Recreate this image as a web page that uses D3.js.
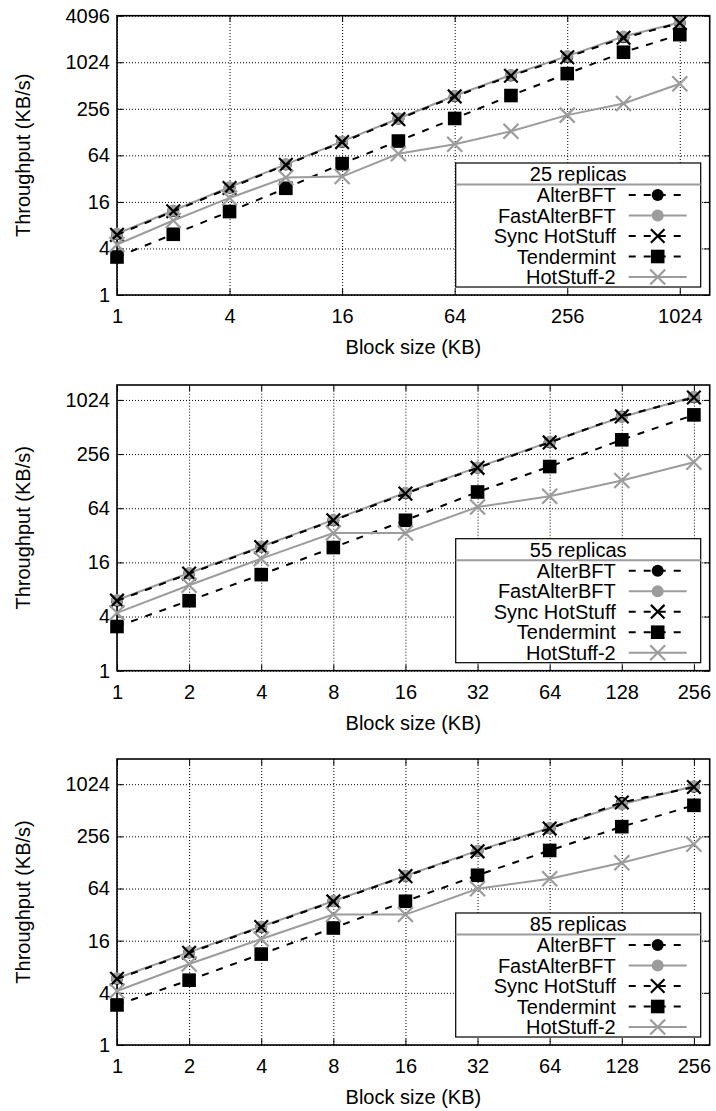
<!DOCTYPE html>
<html lang="en">
<head>
<meta charset="UTF-8">
<title>throughput vs block size</title>
<script src="https://cdn.jsdelivr.net/npm/d3@7/dist/d3.min.js"></script>
<style>
    body { margin: 0; background: #fff; }
    text { font-family: "Liberation Sans", Arial, sans-serif; }
</style>
</head>
<body>

<svg width="716" height="1111" viewBox="0 0 716 1111"></svg>

<script>
    // ---- data ----
    let seriesNames = ["AlterBFT", "FastAlterBFT", "Sync HotStuff", "Tendermint", "HotStuff-2"]
    let panelTitles = ["25 replicas", "55 replicas", "85 replicas"]

    let blockSizesWide = [1, 2, 4, 8, 16, 32, 64, 128, 256, 512, 1024]
    let blockSizes = [1, 2, 4, 8, 16, 32, 64, 128, 256]

    let xTicksWide = [1, 4, 16, 64, 256, 1024]
    let xTicks = [1, 2, 4, 8, 16, 32, 64, 128, 256]
    let yTicksWide = [1, 4, 16, 64, 256, 1024, 4096]
    let yTicks = [1, 4, 16, 64, 256, 1024]

    // 25 replicas
    let alter25 = [6.1, 12.2, 24.4, 48.7, 95, 190, 372, 690, 1200, 2150, 3300]
    let fast25 = [6.2, 12.4, 24.8, 49, 97, 192, 378, 700, 1230, 2200, 3350]
    let sync25 = [6.0, 12.1, 24.2, 48.3, 95, 188, 370, 685, 1190, 2120, 3300]
    let tender25 = [3.1, 6.1, 12, 24, 50, 98, 192, 380, 730, 1380, 2330]
    let hs2_25 = [4.5, 9.2, 18, 33, 34, 67, 89, 131, 212, 300, 540]

    // 55 replicas
    let alter55 = [6.0, 12, 23.8, 47, 94, 180, 347, 670, 1097]
    let fast55 = [6.1, 12.2, 24, 47.5, 95, 182, 350, 660, 1110]
    let sync55 = [6.0, 12, 23.6, 47, 93, 180, 345, 672, 1090]
    let tender55 = [3.1, 6, 11.7, 23.4, 47, 97, 186, 369, 698]
    let hs2_55 = [4.4, 8.9, 17.6, 34, 34, 66, 87, 130, 208]

    // 85 replicas
    let alter85 = [5.8, 11.7, 23, 45.6, 89, 173, 317, 627, 954]
    let fast85 = [5.9, 11.8, 23.3, 46, 90, 175, 320, 600, 970]
    let sync85 = [5.8, 11.6, 23, 45.4, 89, 172, 315, 630, 950]
    let tender85 = [2.9, 5.6, 11.2, 22.4, 45.6, 91, 176, 331, 584]
    let hs2_85 = [4.2, 8.6, 16.7, 32, 32, 63.5, 83, 127, 207]

    // ---- drawing ----
    let svg = d3.select('svg')
    let grey = '#9c9c9c'
    let dashes = '7,8'
    let styles = [
        {color: '#000', dash: dashes, marker: 'circle'},
        {color: grey, dash: null, marker: 'circle'},
        {color: '#000', dash: dashes, marker: 'cross'},
        {color: '#000', dash: dashes, marker: 'square'},
        {color: grey, dash: null, marker: 'cross'}
    ]

    let left = 117, right = 709.7

    let panels = [
        {top: 15.7, bottom: 295, xs: blockSizesWide, xMax: 1480, yMax: 4096, xTicks: xTicksWide, yTicks: yTicksWide,
            series: [alter25, fast25, sync25, tender25, hs2_25], title: panelTitles[0]},
        {top: 385, bottom: 670.7, xs: blockSizes, xMax: 298, yMax: 1500, xTicks: xTicks, yTicks: yTicks,
            series: [alter55, fast55, sync55, tender55, hs2_55], title: panelTitles[1]},
        {top: 759, bottom: 1045, xs: blockSizes, xMax: 298, yMax: 2000, xTicks: xTicks, yTicks: yTicks,
            series: [alter85, fast85, sync85, tender85, hs2_85], title: panelTitles[2]}
    ]

    function drawMarker(g, x, y, st) {
        if (st.marker === 'circle') {
            g.append('circle').attr('cx', x).attr('cy', y).attr('r', 6).attr('fill', st.color)
        } else if (st.marker === 'square') {
            g.append('rect').attr('x', x - 6.8).attr('y', y - 6.8).attr('width', 13.6).attr('height', 13.6).attr('fill', st.color)
        } else {
            let s = st.color === '#000' ? 6.8 : 7.5
            g.append('path')
                .attr('d', 'M' + (x - s) + ',' + (y - s) + 'L' + (x + s) + ',' + (y + s) + 'M' + (x - s) + ',' + (y + s) + 'L' + (x + s) + ',' + (y - s))
                .attr('stroke', st.color).attr('stroke-width', 2.2).attr('fill', 'none')
        }
    }

    function styleAxis(g) {
        g.select('.domain').remove()
        g.attr('font-family', '"Liberation Sans", Arial, sans-serif').attr('font-size', 20)
    }

    panels.forEach(function (p) {
        let xScale = d3.scaleLog().base(2).domain([1, p.xMax]).range([left, right])
        let yScale = d3.scaleLog().base(2).domain([1, p.yMax]).range([p.bottom, p.top])
        let w = right - left, h = p.bottom - p.top
        let fig = svg.append('g')

        // dotted grid
        fig.append('g').attr('transform', 'translate(' + left + ',0)')
            .call(d3.axisLeft(yScale).tickValues(p.yTicks).tickSize(-w).tickFormat(''))
            .call(styleAxis)
            .selectAll('line').attr('stroke', '#000').attr('stroke-width', 0.9).attr('stroke-dasharray', '1,2')
        fig.append('g').attr('transform', 'translate(0,' + p.bottom + ')')
            .call(d3.axisBottom(xScale).tickValues(p.xTicks).tickSize(-h).tickFormat(''))
            .call(styleAxis)
            .selectAll('line').attr('stroke', '#000').attr('stroke-width', 0.9).attr('stroke-dasharray', '1,2')

        // inward ticks on all four sides
        fig.append('g').attr('transform', 'translate(' + left + ',0)')
            .call(d3.axisLeft(yScale).tickValues(p.yTicks).tickSize(-6).tickFormat('')).call(styleAxis)
        fig.append('g').attr('transform', 'translate(' + right + ',0)')
            .call(d3.axisRight(yScale).tickValues(p.yTicks).tickSize(-6).tickFormat('')).call(styleAxis)
        fig.append('g').attr('transform', 'translate(0,' + p.bottom + ')')
            .call(d3.axisBottom(xScale).tickValues(p.xTicks).tickSize(-6).tickFormat('')).call(styleAxis)
        fig.append('g').attr('transform', 'translate(0,' + p.top + ')')
            .call(d3.axisTop(xScale).tickValues(p.xTicks).tickSize(-6).tickFormat('')).call(styleAxis)
        fig.selectAll('.tick line').attr('stroke-width', 1)

        // tick labels
        fig.append('g').attr('transform', 'translate(' + left + ',0)')
            .call(d3.axisLeft(yScale).tickValues(p.yTicks).tickSize(0).tickPadding(7).tickFormat(d3.format('d')))
            .call(styleAxis)
        fig.append('g').attr('transform', 'translate(0,' + p.bottom + ')')
            .call(d3.axisBottom(xScale).tickValues(p.xTicks).tickSize(0).tickPadding(14).tickFormat(d3.format('d')))
            .call(styleAxis)

        // border
        fig.append('rect').attr('x', left).attr('y', p.top).attr('width', w).attr('height', h)
            .attr('fill', 'none').attr('stroke', '#000').attr('stroke-width', 1.6)

        // series
        p.series.forEach(function (vals, k) {
            let st = styles[k]
            let pts = vals.map(function (v, i) { return [xScale(p.xs[i]), yScale(v)] })
            let line = d3.line()
            fig.append('path').attr('d', line(pts)).attr('fill', 'none')
                .attr('stroke', st.color).attr('stroke-width', 2)
                .attr('stroke-dasharray', st.dash)
            let mk = fig.append('g')
            pts.forEach(function (q) { drawMarker(mk, q[0], q[1], st) })
        })

        // axis titles
        fig.append('text').attr('transform', 'translate(30,' + (p.top + h / 2) + ') rotate(-90)')
            .attr('text-anchor', 'middle').attr('font-size', 20).text('Throughput (KB/s)')
        fig.append('text').attr('x', (left + right) / 2).attr('y', p.bottom + 59)
            .attr('text-anchor', 'middle').attr('font-size', 20).text('Block size (KB)')

        // legend
        let lw = 245, lh = 124
        let key = fig.append('g').attr('transform', 'translate(' + (right - 9 - lw) + ',' + (p.bottom - 8 - lh) + ')')
        key.append('rect').attr('width', lw).attr('height', lh).attr('fill', '#fff')
            .attr('stroke', '#000').attr('stroke-width', 1.2)
        key.append('text').attr('x', lw / 2).attr('y', 18).attr('text-anchor', 'middle')
            .attr('font-size', 20).text(p.title)
        key.append('line').attr('x1', 0).attr('x2', lw).attr('y1', 21.5).attr('y2', 21.5)
            .attr('stroke', grey).attr('stroke-width', 2)
        seriesNames.forEach(function (name, k) {
            let st = styles[k]
            let cy = 32 + k * 20.5
            key.append('text').attr('x', 160).attr('y', cy + 7).attr('text-anchor', 'end')
                .attr('font-size', 20).text(name)
            key.append('line').attr('x1', 173).attr('x2', 231).attr('y1', cy).attr('y2', cy)
                .attr('stroke', st.color).attr('stroke-width', 2).attr('stroke-dasharray', st.dash)
            drawMarker(key, 202, cy, st)
        })
    })
</script>

</body>
</html>
